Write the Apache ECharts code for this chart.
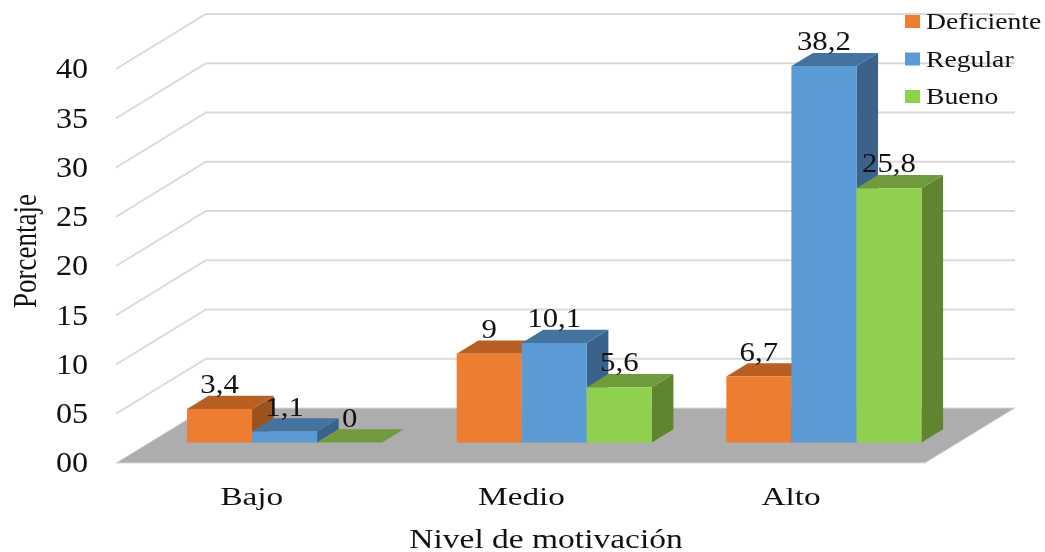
<!DOCTYPE html>
<html>
<head>
<meta charset="utf-8">
<style>html,body{margin:0;padding:0;background:#fff}#chart{width:1045px;height:552px}</style>
<script src="https://cdn.jsdelivr.net/npm/echarts@6/dist/echarts.min.js"></script>
</head>
<body>
<div id="chart"></div>
<script>
// Motivation levels by rating, drawn as 3D-style clustered columns
const categories = ['Bajo', 'Medio', 'Alto'];
const deficiente = [3.4, 9, 6.7];
const regular = [1.1, 10.1, 38.2];
const bueno = [0, 5.6, 25.8];
const yTicks = [0, 5, 10, 15, 20, 25, 30, 35, 40];
const seriesNames = ['Deficiente', 'Regular', 'Bueno'];
const xTitle = 'Nivel de motivación';
const yTitle = 'Porcentaje';

const palette = [
  { front: '#ED7D31', top: '#B86024', side: '#9C521C' },
  { front: '#5B9BD5', top: '#44739F', side: '#3A628A' },
  { front: '#8FD14F', top: '#6F9B3C', side: '#5F8530' }
];

// Oblique projection of the chart's depth axis
const FLOOR_DX = 90, FLOOR_DY = -55;
const BAR_NEAR = 0.375, BAR_FAR = 0.615;
const BAR_BAND = 0.2412;
const SERIF = '"Liberation Serif", serif';
const INK = '#111';

function stretchedText(text, x, y, size, scaleX, align) {
  return {
    type: 'text', x, y, scaleX, scaleY: 1, z2: 20,
    style: { text, fill: INK, font: `${size}px ${SERIF}`, textAlign: align || 'center', textVerticalAlign: 'middle' }
  };
}

function renderWalls(params, api) {
  const value = api.value(0);
  const y = api.coord([0, value])[1];
  const cs = params.coordSys;
  const left = cs.x, right = cs.x + cs.width;
  const children = [];
  if (value === 0) {
    children.push({
      type: 'polygon',
      shape: { points: [[left, y], [right, y], [right + FLOOR_DX, y + FLOOR_DY], [left + FLOOR_DX, y + FLOOR_DY]] },
      style: { fill: '#ADADAD', stroke: '#D9D9D9', lineWidth: 1 }
    });
  } else {
    children.push({
      type: 'polyline',
      shape: { points: [[left, y], [left + FLOOR_DX, y + FLOOR_DY], [right + FLOOR_DX, y + FLOOR_DY]] },
      style: { fill: 'none', stroke: '#DADADA', lineWidth: 2 }
    });
  }
  const label = String(value).padStart(2, '0');
  children.push(stretchedText(label, 72, y + 2, 28.5, 1.13));
  return { type: 'group', children };
}

function renderColumn(k) {
  return function (params, api) {
    const cat = api.value(0), val = api.value(1);
    const band = api.size([1, 0])[0];
    const w = band * BAR_BAND;
    const top = api.coord([cat, val]);
    const base = api.coord([cat, 0]);
    const x0 = top[0] + (k - 1.5) * w + BAR_NEAR * FLOOR_DX;
    const x1 = x0 + w;
    const yTop = top[1] + BAR_NEAR * FLOOR_DY;
    const yBase = base[1] + BAR_NEAR * FLOOR_DY;
    const dx = (BAR_FAR - BAR_NEAR) * FLOOR_DX;
    const dy = (BAR_FAR - BAR_NEAR) * FLOOR_DY;
    const c = palette[k];
    return {
      type: 'group',
      children: [
        { type: 'polygon', shape: { points: [[x1, yTop], [x1 + dx, yTop + dy], [x1 + dx, yBase + dy], [x1, yBase]] }, style: { fill: c.side } },
        { type: 'polygon', shape: { points: [[x0, yTop], [x0 + dx, yTop + dy], [x1 + dx, yTop + dy], [x1, yTop]] }, style: { fill: c.top } },
        { type: 'rect', shape: { x: x0, y: yTop, width: w, height: yBase - yTop }, style: { fill: c.front } }
      ]
    };
  };
}

function renderValueLabel(params, api) {
  const cat = api.value(0), val = api.value(1), k = api.value(2);
  const band = api.size([1, 0])[0];
  const w = band * BAR_BAND;
  const top = api.coord([cat, val]);
  const x = top[0] + (k - 1) * w + BAR_NEAR * FLOOR_DX;
  const y = top[1] + BAR_FAR * FLOOR_DY - 10;
  return stretchedText(String(val).replace('.', ','), x, y, 28, 1.1);
}

function renderCategoryLabel(params, api) {
  const p = api.coord([api.value(0), 0]);
  return stretchedText(categories[api.value(0)], p[0] + 1, 498, 26, 1.28);
}

const barSeries = [deficiente, regular, bueno].map((values, k) => ({
  type: 'custom',
  name: seriesNames[k],
  z: 3,
  renderItem: renderColumn(k),
  encode: { x: 0, y: 1 },
  data: values.map((v, i) => [i, v])
}));

const labelData = [];
[deficiente, regular, bueno].forEach((values, k) => values.forEach((v, i) => labelData.push([i, v, k])));

const legendGraphics = [];
seriesNames.forEach((name, k) => {
  const cy = 21.5 + k * 37.5;
  legendGraphics.push({ type: 'rect', z: 10, x: 905, y: cy - 6.5, shape: { width: 15, height: 13 }, style: { fill: palette[k].front } });
  legendGraphics.push({
    type: 'text', z: 10, x: 926, y: cy + 2, scaleX: 1.23,
    style: { text: name, fill: INK, font: `22.5px ${SERIF}`, textAlign: 'left', textVerticalAlign: 'middle' }
  });
});

const chart = echarts.init(document.getElementById('chart'));
chart.setOption({
  animation: false,
  backgroundColor: '#fff',
  grid: { left: 116, width: 809, top: 69, height: 394 },
  xAxis: { type: 'category', data: categories, show: false },
  yAxis: { type: 'value', min: 0, max: 40, interval: 5, show: false },
  series: [
    { type: 'custom', z: 1, renderItem: renderWalls, encode: { x: -1, y: 0 }, data: yTicks.map(v => [v]) },
    ...barSeries,
    { type: 'custom', z: 5, renderItem: renderValueLabel, encode: { x: 0, y: 1 }, data: labelData },
    { type: 'custom', z: 5, renderItem: renderCategoryLabel, encode: { x: 0 }, data: categories.map((c, i) => [i]) }
  ],
  graphic: [
    { type: 'text', z: 10, x: 546, y: 541, scaleX: 1.24, style: { text: xTitle, fill: INK, font: `27px ${SERIF}`, textAlign: 'center', textVerticalAlign: 'middle' } },
    { type: 'text', z: 10, x: 27, y: 251, rotation: Math.PI / 2, scaleY: 1.27, style: { text: yTitle, fill: INK, font: `27px ${SERIF}`, textAlign: 'center', textVerticalAlign: 'middle' } },
    ...legendGraphics
  ]
});
</script>
</body>
</html>
